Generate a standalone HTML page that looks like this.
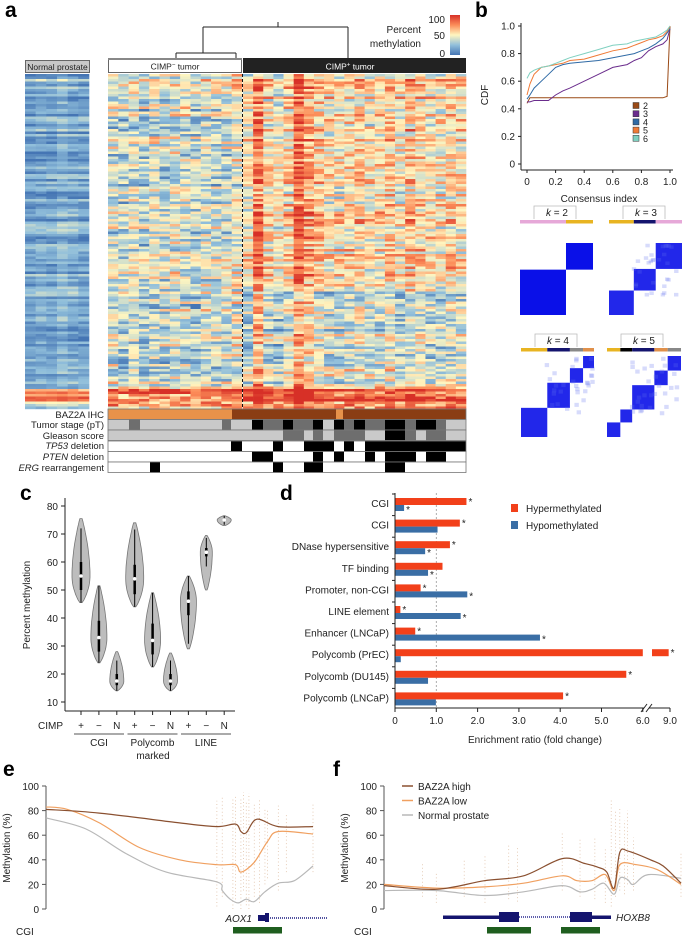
<!DOCTYPE html>
<html><head><meta charset="utf-8">
<style>
html,body{margin:0;padding:0;background:#fff;}
svg{display:block;font-family:"Liberation Sans",Arial,sans-serif;}
.t{font-size:10px;fill:#222;}
.s{font-size:9px;fill:#222;}
.pl{font-size:21px;font-weight:bold;fill:#000;}
</style></head>
<body>
<svg id="fig" width="685" height="938" viewBox="0 0 685 938" xmlns="http://www.w3.org/2000/svg">
<text class="pl" x="5" y="17">a</text>
<text class="pl" x="475" y="17">b</text>
<text class="pl" x="20" y="500">c</text>
<text class="pl" x="280" y="500">d</text>
<text class="pl" x="3" y="776">e</text>
<text class="pl" x="333" y="776">f</text>

<g>
<rect x="25.5" y="60.5" width="64" height="12" fill="#c8c8c8" stroke="#666"/>
<text x="57.5" y="70" text-anchor="middle" font-size="8.5" fill="#222">Normal prostate</text>
<rect x="108.5" y="59.5" width="133" height="13" fill="#fff" stroke="#666"/>
<rect x="108" y="58" width="134" height="2" fill="#888"/>
<text x="175" y="69.5" text-anchor="middle" font-size="8.5" fill="#222">CIMP<tspan font-size="6" dy="-3">−</tspan><tspan dy="3"> tumor</tspan></text>
<rect x="243" y="58" width="223" height="15" fill="#222"/>
<text x="350" y="69.5" text-anchor="middle" font-size="8.5" fill="#fff">CIMP<tspan font-size="6" dy="-3">+</tspan><tspan dy="3"> tumor</tspan></text>
<g stroke="#222" stroke-width="1" fill="none">
<path d="M278 22 V27 M203 27 H348 M203 27 V53 M348 27 V58 M176 53 H236 M176 53 V58 M236 53 V58"/>
</g>
<defs><linearGradient id="cb" x1="0" y1="1" x2="0" y2="0">
<stop offset="0" stop-color="#4575b4"/><stop offset="0.25" stop-color="#91bfdb"/><stop offset="0.5" stop-color="#fff6c0"/><stop offset="0.75" stop-color="#fc8d59"/><stop offset="1" stop-color="#d73027"/></linearGradient></defs>
<rect x="450" y="15" width="10" height="40" fill="url(#cb)"/>
<text class="t" x="445" y="23" text-anchor="end">100</text>
<text class="t" x="445" y="39" text-anchor="end">50</text>
<text class="t" x="445" y="57" text-anchor="end">0</text>
<text class="t" x="421" y="33" text-anchor="end">Percent</text>
<text class="t" x="421" y="47" text-anchor="end">methylation</text>
</g>
<g id="heat"></g>
<line x1="242.5" y1="74" x2="242.5" y2="408" stroke="#111" stroke-dasharray="3,2"/>
<g id="annot"></g>
<g font-size="9.5" fill="#222" text-anchor="end">
<text x="104" y="418">BAZ2A IHC</text>
<text x="104" y="428">Tumor stage (pT)</text>
<text x="104" y="439">Gleason score</text>
<text x="104" y="449"><tspan font-style="italic">TP53</tspan> deletion</text>
<text x="104" y="460"><tspan font-style="italic">PTEN</tspan> deletion</text>
<text x="104" y="471"><tspan font-style="italic">ERG</tspan> rearrangement</text>
</g>

<g id="cdf"></g>
<g id="cons"></g>
<g id="violin"></g>
<g id="bars"></g>
<g id="pe"></g>
<g id="pf"></g>
</svg>
<script>
const NS='http://www.w3.org/2000/svg';
function mk(tag,attrs,parent){const e=document.createElementNS(NS,tag);for(const k in attrs)e.setAttribute(k,attrs[k]);parent.appendChild(e);return e;}
function tx(str,attrs,parent){const t=mk('text',attrs,parent);t.textContent=str;return t;}
function smooth(pts){let d='M'+pts[0][0]+' '+pts[0][1];for(let i=0;i<pts.length-1;i++){const p0=pts[Math.max(i-1,0)],p1=pts[i],p2=pts[i+1],p3=pts[Math.min(i+2,pts.length-1)];const c1x=p1[0]+(p2[0]-p0[0])/6,c1y=p1[1]+(p2[1]-p0[1])/6,c2x=p2[0]-(p3[0]-p1[0])/6,c2y=p2[1]-(p3[1]-p1[1])/6;d+=' C'+c1x.toFixed(1)+' '+c1y.toFixed(1)+' '+c2x.toFixed(1)+' '+c2y.toFixed(1)+' '+p2[0].toFixed(1)+' '+p2[1].toFixed(1);}return d;}

const normalColBase=[15,18,16,22,18,16];
const cimpNegColBase=[40,36,42,34,40,36,44,40,34,42,38,40,48];
const cimpPosColBase=[52,82,56,48,58,86,72,60,55,52,58,60,52,55,60,52,62,58,55,52,60,55];
function hsh(a,b){let h=(a*374761393+b*668265263)^0x5bd1e995;h=(h^(h>>>13))*1274126177;h=h^(h>>>16);return ((h>>>0)%10000)/10000;}
function heatColor(v){v=Math.max(0,Math.min(100,v))/100;const st=[[0,[69,117,180]],[0.25,[145,191,219]],[0.5,[255,246,192]],[0.75,[252,141,89]],[1,[215,48,39]]];for(let i=0;i<4;i++){if(v<=st[i+1][0]){const t=(v-st[i][0])/(st[i+1][0]-st[i][0]);const a=st[i][1],b=st[i+1][1];return 'rgb('+[0,1,2].map(k=>Math.round(a[k]+(b[k]-a[k])*t)).join(',')+')';}}return 'rgb(215,48,39)';}
const heat=document.getElementById('heat');
const rowH=2.5,nRows=134,top0=74;
function drawBlock(bases,x0,w,group,seed){
  bases.forEach((b,c)=>{
    for(let r=0;r<nRows;r++){
      const y=top0+r*rowH;
      let rowEff=(hsh(r,seed)-0.5)*30;
      let v=b+rowEff+(hsh(r*7+c,c*13+seed)-0.5)*(group==='normal'?14:44);
      if(group==='pos'&&y>290&&y<385) v-=15;
      if(y>=388&&y<400) v+=group==='normal'?60:40;
      if(y>=400) v+=group==='normal'?15:20;
      if(r===2) v+=25;
      const rc=mk('rect',{x:(x0+c*w).toFixed(2),y:y,width:(w+0.3).toFixed(2),height:rowH+0.2,fill:heatColor(v)},heat);
      
      
    }
  });
}
drawBlock(normalColBase,25,64/6,'normal',3);
drawBlock(cimpNegColBase,108,134/13,'neg',5);
drawBlock(cimpPosColBase,243,223/22,'pos',9);

const annot=document.getElementById('annot');
const LG='#c9c9c9',DG='#6e6e6e',BK='#000',W='#fff',LO='#e8924a',DB='#8a3d14';
const bazSegs=[[108,232,LO],[232,336,DB],[336,343,LO],[343,466,DB]];
const stageSegs=[[108,466,LG],[129,140,DG],[222,231,DG],[252,263,BK],[263,283,DG],[283,293,BK],[293,313,DG],[313,323,BK],[334,344,BK],[344,354,DG],[354,365,BK],[365,385,DG],[385,405,BK],[405,416,DG],[416,436,BK],[436,446,DG]];
const gleasonSegs=[[108,466,LG],[283,304,DG],[313,323,DG],[334,365,DG],[385,405,BK],[405,416,DG],[426,446,DG]];
const tp53Segs=[[108,466,W],[231,242,BK],[273,283,BK],[304,334,BK],[344,354,BK],[365,466,BK]];
const ptenSegs=[[108,466,W],[252,273,BK],[313,323,BK],[334,344,BK],[365,375,BK],[385,416,BK],[426,446,BK]];
const ergSegs=[[108,466,W],[150,160,BK],[273,283,BK],[304,323,BK],[385,405,BK]];
const trackY=[409,419.5,430,441,451.5,462];
[bazSegs,stageSegs,gleasonSegs,tp53Segs,ptenSegs,ergSegs].forEach((segs,i)=>{
  segs.forEach(s=>{const r=mk('rect',{x:s[0],y:trackY[i],width:s[1]-s[0],height:10.5,fill:s[2]},annot);
    
    });
  const b=mk('rect',{x:108,y:trackY[i],width:358,height:10.5,fill:'none',stroke:'#777','stroke-width':0.8},annot);
  
  
});

const cdfK=['2','3','4','5','6'];
const cdfColors=['#9a4a16','#6a2c8c','#2f6aa5','#f07a36','#7fd0c0'];
const cdfX=[0,0.02,0.05,0.1,0.15,0.2,0.25,0.3,0.4,0.5,0.6,0.7,0.75,0.8,0.85,0.9,0.95,0.98,1.0];
const cdfY2=[0.44,0.48,0.48,0.48,0.48,0.48,0.48,0.48,0.48,0.48,0.48,0.48,0.48,0.48,0.48,0.48,0.48,0.49,1.0];
const cdfY3=[0.45,0.45,0.46,0.46,0.46,0.5,0.53,0.55,0.6,0.65,0.7,0.72,0.75,0.77,0.82,0.85,0.87,0.9,0.98];
const cdfY4=[0.47,0.5,0.55,0.6,0.65,0.7,0.72,0.73,0.74,0.75,0.77,0.79,0.8,0.82,0.84,0.87,0.91,0.95,0.98];
const cdfY5=[0.5,0.58,0.65,0.7,0.71,0.72,0.73,0.75,0.76,0.79,0.82,0.84,0.86,0.88,0.9,0.91,0.93,0.96,1.0];
const cdfY6=[0.62,0.66,0.68,0.7,0.71,0.73,0.75,0.77,0.8,0.83,0.86,0.87,0.89,0.9,0.91,0.92,0.95,0.97,1.0];
const cdfTicks=[0,0.2,0.4,0.6,0.8,1.0];
const cdf=document.getElementById('cdf');
const bx=v=>527+v*143, by=v=>164-v*138;
mk('line',{x1:521,y1:by(1.0)-3,x2:521,y2:170,stroke:'#222'},cdf);
mk('line',{x1:521,y1:170,x2:bx(1)+3,y2:170,stroke:'#222'},cdf);
cdfTicks.forEach(v=>{
  mk('line',{x1:518,x2:521,y1:by(v),y2:by(v),stroke:'#222'},cdf);
  const a=tx(v===0?'0':v.toFixed(1),{x:515,y:by(v)+3.5,'text-anchor':'end',class:'t'},cdf);
  
  
  mk('line',{x1:bx(v),x2:bx(v),y1:170,y2:173,stroke:'#222'},cdf);
  const b=tx(v===0?'0':v.toFixed(1),{x:bx(v),y:185,'text-anchor':'middle',class:'t'},cdf);
  
  
});
const xt=tx('Consensus index',{x:599,y:202,'text-anchor':'middle',class:'t'},cdf);


const yt=tx('CDF',{x:0,y:0,'text-anchor':'middle',class:'t',transform:'translate(488,95) rotate(-90)'},cdf);


[cdfY2,cdfY3,cdfY4,cdfY5,cdfY6].forEach((ys,i)=>{
  const p=mk('polyline',{points:cdfX.map((x,j)=>bx(x).toFixed(1)+','+by(ys[j]).toFixed(1)).join(' '),fill:'none',stroke:cdfColors[i],'stroke-width':1},cdf);
  
  
  const sq=mk('rect',{x:633,y:102.5+i*8.2,width:6,height:6,fill:cdfColors[i],stroke:'#333','stroke-width':0.5},cdf);
  
  
  const lt=tx(cdfK[i],{x:643,y:109+i*8.2,class:'s'},cdf);
  
  
});

const consK=['2','3','4','5'];
const consSizes=[[0.63,0.37],[0.34,0.3,0.36],[0.36,0.31,0.18,0.15],[0.18,0.16,0.3,0.18,0.18]];
const consColors=[['#e6a8d8','#e8b422'],['#e8b422','#14146e','#e6a8d8'],['#e8b422','#14146e','#888','#e0904a'],['#e8b422','#000','#14146e','#e0904a','#888']];
const consPos=[[520,243,73,72,220],[609,243,73,72,220],[521,356,73,81,348],[607,356,74,81,348]];
const cons=document.getElementById('cons');
consSizes.forEach((sz,k)=>{
  const [x0,y0,w,h,barY]=consPos[k];
  mk('path',{d:'M'+(x0+14)+' '+(barY-1)+' V'+(barY-14)+' H'+(x0+56)+' V'+(barY-1),fill:'none',stroke:'#bbb','stroke-width':0.8},cons);
  const lab=tx('',{x:x0+37,y:barY-4,'text-anchor':'middle',class:'t'},cons);
  lab.innerHTML='<tspan font-style="italic">k</tspan> = '+consK[k];
  
  
  let acc=0;
  sz.forEach((f,i)=>{
    const bar=mk('rect',{x:x0+acc*w,y:barY,width:f*w,height:3.5,fill:consColors[k][i]},cons);
    
    
    const bxx=x0+acc*w, byy=y0+h-(acc+f)*h;
    const blk=mk('rect',{x:bxx,y:byy,width:f*w,height:f*h,fill:'#0a10e8',opacity:k===0?1:0.9},cons);
    
    
    acc+=f;
  });
  if(k>0){
    for(let i=0;i<30;i++){const rx=x0+w*(0.3+0.65*hsh(i,k)),ry=y0+h*0.7*hsh(k,i*3);
      mk('rect',{x:rx,y:ry,width:w*0.06,height:h*0.05,fill:'#6070f0',opacity:0.25},cons);}
  }
});

const vioMin=[45.5,24,14,44,22.5,14,29,50,73];
const vioMax=[75.5,51.5,28,74,49,27.5,55,69.5,76.5];
const vioMed=[55,33,17.5,54,32,17.5,46,63.5,75];
const vioQ1=[50,28,16,48.5,27,16,41,62,74.5];
const vioQ3=[60,39,20,59,38,20,49.5,65,75.5];
const vioW=[9,8,7,9,8,7,8,6,7];
const vioSign=['+','−','N','+','−','N','+','−','N'];
const vioTicks=[10,20,30,40,50,60,70,80];
const vg=document.getElementById('violin');
const vy=v=>702-(v-10)*2.8, vx=i=>81+i*17.9;
mk('line',{x1:65,y1:498,x2:65,y2:711,stroke:'#222'},vg);
mk('line',{x1:65,y1:711,x2:235,y2:711,stroke:'#222'},vg);
vioTicks.forEach(v=>{mk('line',{x1:61,x2:65,y1:vy(v),y2:vy(v),stroke:'#222'},vg);
  const t=tx(String(v),{x:58,y:vy(v)+4,'text-anchor':'end',class:'t','font-size':'11'},vg);
  
  });
const vyt=tx('Percent methylation',{x:0,y:0,'text-anchor':'middle',class:'t','font-size':'11',transform:'translate(30,605) rotate(-90)'},vg);


const cimpL=tx('CIMP',{x:38,y:729,class:'t','font-size':'11'},vg);


vioMin.forEach((mn,i)=>{
  const mx=vioMax[i],md=vioMed[i],W=vioW[i],cx=vx(i);
  const m=(md-mn)/(mx-mn);const L=[],R=[];
  for(let s=0;s<=30;s++){const t=s/30;const v=mn+t*(mx-mn);
    let w=t<m?Math.pow(Math.sin(Math.PI/2*t/m),0.8):Math.pow(Math.cos(Math.PI/2*(t-m)/(1-m)),0.9);
    w=W*(0.12+0.88*w);L.push([cx-w,vy(v)]);R.push([cx+w,vy(v)]);}
  const pts=L.concat(R.reverse());
  const p=mk('path',{d:'M'+pts.map(q=>q[0].toFixed(1)+' '+q[1].toFixed(1)).join(' L')+' Z',fill:'#bdbdbd',stroke:'#777','stroke-width':0.8},vg);
  
  
  mk('line',{x1:cx,x2:cx,y1:vy(Math.max(mn,vioQ1[i]-(vioQ3[i]-vioQ1[i])*1.2)),y2:vy(Math.min(mx,vioQ3[i]+(vioQ3[i]-vioQ1[i])*1.2)),stroke:'#000','stroke-width':1},vg);
  mk('line',{x1:cx,x2:cx,y1:vy(vioQ1[i]),y2:vy(vioQ3[i]),stroke:'#000','stroke-width':2.5},vg);
  const d=mk('circle',{cx:cx,cy:vy(md),r:1.8,fill:'#fff'},vg);
  
  
  mk('line',{x1:cx,x2:cx,y1:711,y2:715,stroke:'#222'},vg);
  const st=tx(vioSign[i],{x:cx,y:729,'text-anchor':'middle',class:'t','font-size':'11'},vg);
  
  
});
const vGroups=['CGI','Polycomb','LINE'];
vGroups.forEach((g,i)=>{const x0=74+i*53.5;mk('line',{x1:x0,x2:x0+50,y1:734,y2:734,stroke:'#555'},vg);
  const t=tx(g,{x:x0+25,y:746,'text-anchor':'middle',class:'t','font-size':'11'},vg);
  
  });
const mk2=tx('marked',{x:153,y:759,'text-anchor':'middle',class:'t','font-size':'11'},vg);



const barCats=['CGI','CGI','DNase hypersensitive','TF binding','Promoter, non-CGI','LINE element','Enhancer (LNCaP)','Polycomb (PrEC)','Polycomb (DU145)','Polycomb (LNCaP)'];
const hyperVals=[1.73,1.57,1.33,1.15,0.62,0.13,0.49,8.8,5.6,4.07];
const hypoVals=[0.22,1.03,0.73,0.8,1.75,1.59,3.51,0.14,0.8,0.99];
const hyperStar=[1,1,1,0,1,1,1,1,1,1];
const hypoStar=[1,0,1,1,1,1,1,0,0,0];
const barTicks=[0,1,2,3,4,5,6];
const bg=document.getElementById('bars');
const dx=v=>395+v*41.3;
const dxb=v=>v<=6?dx(v):652+(v-6.3)/(9-6.3)*18;
const dy=i=>504+i*21.6;
mk('line',{x1:dx(1),x2:dx(1),y1:493,y2:708,stroke:'#999','stroke-dasharray':'2,2','stroke-width':0.8},bg);
barCats.forEach((c,i)=>{
  const y=dy(i);
  const lab=tx(c,{x:389,y:y+3,'text-anchor':'end',class:'t','font-size':'10.5'},bg);
  
  
  mk('line',{x1:392,x2:395,y1:y-10,y2:y-10,stroke:'#222'},bg);
  const hv=hyperVals[i];
  if(hv>6.1){
    const r1=mk('rect',{x:dx(0),y:y-6,width:dx(6)-dx(0),height:7,fill:'#f2401a'},bg);
    
    
    const r2=mk('rect',{x:652,y:y-6,width:dxb(hv)-652,height:7,fill:'#f2401a'},bg);
    
    
  } else {
    const r=mk('rect',{x:dx(0),y:y-6,width:dx(hv)-dx(0),height:7,fill:'#f2401a'},bg);
    
    
  }
  const b=mk('rect',{x:dx(0),y:y+1,width:dx(hypoVals[i])-dx(0),height:6,fill:'#3a6ea5'},bg);
  
  
  if(hyperStar[i]) tx('*',{x:dxb(hv)+2,y:y+1,class:'t','font-size':'10'},bg);
  if(hypoStar[i]) tx('*',{x:dx(hypoVals[i])+2,y:y+9,class:'t','font-size':'10'},bg);
});
mk('line',{x1:395,y1:493,x2:395,y2:708,stroke:'#222'},bg);
mk('line',{x1:395,y1:708,x2:644,y2:708,stroke:'#222'},bg);
mk('line',{x1:649,y1:708,x2:670,y2:708,stroke:'#222'},bg);
mk('path',{d:'M641 712 L647 704 M646 712 L652 704',stroke:'#222',fill:'none'},bg);
barTicks.forEach(v=>{mk('line',{x1:dx(v),x2:dx(v),y1:708,y2:712,stroke:'#222'},bg);
  const t=tx(v===0?'0':v.toFixed(1),{x:dx(v),y:724,'text-anchor':'middle',class:'t','font-size':'10.5'},bg);
  
  });
mk('line',{x1:670,x2:670,y1:708,y2:712,stroke:'#222'},bg);
const t9=tx('9.0',{x:670,y:724,'text-anchor':'middle',class:'t','font-size':'10.5'},bg);


const bxt=tx('Enrichment ratio (fold change)',{x:535,y:743,'text-anchor':'middle',class:'t','font-size':'10.5'},bg);


const lr=mk('rect',{x:511,y:504,width:7,height:8,fill:'#f2401a'},bg);


const lrt=tx('Hypermethylated',{x:526,y:512,class:'t','font-size':'11'},bg);


const lb=mk('rect',{x:511,y:521,width:7,height:8,fill:'#3a6ea5'},bg);


const lbt=tx('Hypomethylated',{x:526,y:529,class:'t','font-size':'11'},bg);



const eHighX=[0,20,50,64,71,73,75,79,87,100];
const eHighY=[81,78,70,67,69,63,62,73,67,67];
const eLowX=[0,8,20,35,50,64,71,73,78,83,87,100];
const eLowY=[83,81,70,50,40,36,36,30,38,55,63,61];
const eNormX=[0,15,30,45,64,66,69,72,75,78,82,87,93,100];
const eNormY=[74,65,45,30,22,15,8,5,8,6,14,21,23,35];
const eDotX=[64,66,70,71,73,74,75,76,78,80,82,83,87,90,100];
const eDotHi=[88,92,90,93,91,95,88,94,85,90,82,80,84,78,85];
const eDotLo=[2,10,0,5,0,15,3,0,10,5,20,25,15,30,30];
const fHighX=[0,17.6,33.8,47,60,67.6,72,75,77.5,79.4,82.3,89.7,94,100];
const fHighY=[19,16,23,27,41,37,34,30,17,46,47,40,35,21];
const fLowX=[0,17.6,33.8,47,60,65,70,74.5,77.5,79.4,85,92,100];
const fLowY=[20,17,18,21,27,23,23,28,15,36,36,32,20];
const fNormX=[0,17.6,33.8,47,60,66,70,74,77.5,79.4,82,84,89,100];
const fNormY=[15,15,11,14,19,14,16,21,12,25,24,20,28,25];
const fDotX=[0,13,17.6,27,34,42,45,60,66,71,74.5,76.5,78,79.4,81,82,84,100];
const fDotHi=[55,38,30,40,44,52,50,62,58,58,50,90,80,82,72,80,58,45];
const fDotLo=[5,10,5,10,5,8,6,15,10,8,5,2,10,15,12,20,15,10];
const eTicks=[0,20,40,60,80,100];
function genomePlot(g,ax,x0,x1,curves,dotX,dotHi,dotLo,pre){
  const gx=v=>x0+v/100*(x1-x0), gy=v=>909-v*1.23;
  dotX.forEach((x,i)=>{const l=mk('line',{x1:gx(x),x2:gx(x),y1:gy(dotLo[i]),y2:gy(dotHi[i]),stroke:'#c48a5a','stroke-width':0.7,'stroke-dasharray':'1,2.5',opacity:0.6},g);
    
    });
  mk('line',{x1:ax,y1:786,x2:ax,y2:909,stroke:'#555'},g);
  eTicks.forEach(v=>{mk('line',{x1:ax-4,x2:ax,y1:gy(v),y2:gy(v),stroke:'#555'},g);
    const t=tx(String(v),{x:ax-7,y:gy(v)+4,'text-anchor':'end',class:'t','font-size':'11'},g);
    
    });
  const yl=tx('Methylation (%)',{x:0,y:0,'text-anchor':'middle',class:'t','font-size':'11',transform:'translate('+(ax-36)+',848) rotate(-90)'},g);
  
  
  curves.forEach(c=>{const p=mk('path',{d:smooth(c[0].map((x,i)=>[gx(x),gy(c[1][i])])),fill:'none',stroke:c[2],'stroke-width':1.2},g);
    
    });
  const cg=tx('CGI',{x:ax-30,y:935,class:'t','font-size':'11'},g);
  
  
}
const pe=document.getElementById('pe'), pf=document.getElementById('pf');
genomePlot(pe,46,46,313,[[eNormX,eNormY,'#b8b8b8','normal-line'],[eLowX,eLowY,'#f0a060','low-line'],[eHighX,eHighY,'#8a5030','high-line']],eDotX,eDotHi,eDotLo,'e');
genomePlot(pf,384,384,681,[[fNormX,fNormY,'#b8b8b8','normal-line'],[fLowX,fLowY,'#f0a060','low-line'],[fHighX,fHighY,'#8a5030','high-line']],fDotX,fDotHi,fDotLo,'f');
mk('line',{x1:258,x2:328,y1:918,y2:918,stroke:'#1a1a80','stroke-width':1.5,'stroke-dasharray':'1,1'},pe);
mk('rect',{x:258,y:915,width:9,height:6,fill:'#14146e'},pe);
mk('rect',{x:265,y:913,width:4,height:9,fill:'#14146e'},pe);
const a1=tx('AOX1',{x:252,y:922,'text-anchor':'end',class:'t','font-size':'11','font-style':'italic'},pe);


const ec=mk('rect',{x:233,y:927,width:49,height:6.5,fill:'#1f5e1f'},pe);


mk('rect',{x:443,y:915.5,width:56,height:3.5,fill:'#14146e'},pf);
mk('line',{x1:519,x2:570,y1:917,y2:917,stroke:'#2a2a90','stroke-width':1.5,'stroke-dasharray':'1,1'},pf);
mk('rect',{x:499,y:912,width:20,height:10,fill:'#14146e'},pf);
mk('rect',{x:570,y:912,width:22,height:10,fill:'#14146e'},pf);
mk('rect',{x:592,y:915.5,width:19,height:3.5,fill:'#14146e'},pf);
const hx=tx('HOXB8',{x:616,y:921,class:'t','font-size':'11','font-style':'italic'},pf);


[[487,531],[561,600]].forEach(s=>{const r=mk('rect',{x:s[0],y:927,width:s[1]-s[0],height:6.5,fill:'#1f5e1f'},pf);
  
  });
const legN=['BAZ2A high','BAZ2A low','Normal prostate'],legC=['#8a5030','#f0a060','#b8b8b8'];
legN.forEach((n,i)=>{mk('line',{x1:402,x2:413,y1:786+i*14.5,y2:786+i*14.5,stroke:legC[i],'stroke-width':1.5},pf);
  const t=tx(n,{x:418,y:790+i*14.5,class:'t','font-size':'11'},pf);
  
  });
</script>
</body></html>
